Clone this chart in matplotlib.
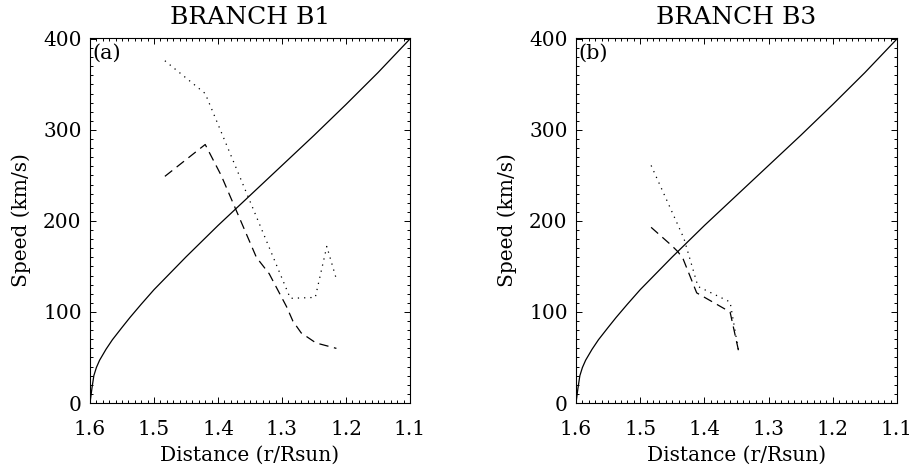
import numpy as np
import matplotlib
matplotlib.use("Agg")
import matplotlib.pyplot as plt
from matplotlib.ticker import MultipleLocator

plt.rcParams['font.family'] = ['DejaVu Serif']

# smooth model curve (same in both panels)
model_r = [1.600, 1.597, 1.594, 1.590, 1.585, 1.575, 1.565, 1.550, 1.5375, 1.520,
           1.500, 1.450, 1.400, 1.350, 1.300, 1.250, 1.200, 1.150, 1.100]
model_v = [0, 16, 30, 39, 47, 59, 69.5, 83, 94, 108.5,
           124.5, 160.5, 195, 228, 261, 294, 328, 363, 400]

# branch B1
b1_dot_r = [1.483, 1.420, 1.287, 1.248, 1.230, 1.215]
b1_dot_v = [376, 340, 115, 116, 172, 136]
b1_dash_r = [1.483, 1.420, 1.395, 1.340, 1.320, 1.293, 1.283, 1.270, 1.247, 1.215]
b1_dash_v = [249, 284, 250, 160, 142, 106, 90, 77, 66, 60]

# branch B3
b3_dot_r = [1.483, 1.432, 1.410, 1.360, 1.347]
b3_dot_v = [261, 181, 128, 111, 58]
b3_dash_r = [1.483, 1.451, 1.441, 1.433, 1.412, 1.360, 1.347]
b3_dash_v = [193, 173, 166, 158, 121, 100, 58]

titles = ['BRANCH B1', 'BRANCH B3']
tags = ['(a)', '(b)']

fig = plt.figure(figsize=(9.09, 4.69), dpi=100)
ax1 = fig.add_axes([90/909, 1-403/469, 320/909, 365/469])
ax2 = fig.add_axes([576/909, 1-403/469, 321/909, 365/469])

panels = [(ax1, b1_dot_r, b1_dot_v, b1_dash_r, b1_dash_v),
          (ax2, b3_dot_r, b3_dot_v, b3_dash_r, b3_dash_v)]

for i, (ax, dr, dv, sr, sv) in enumerate(panels):
    ax.plot(model_r, model_v, color='black', lw=0.9)
    ax.plot(dr, dv, color='black', lw=0.9, linestyle=(0, (1, 4)))
    ax.plot(sr, sv, color='black', lw=0.9, linestyle=(0, (7.5, 4.5)))
    ax.set_xlim(1.6, 1.1)
    ax.set_ylim(0, 401)
    ax.xaxis.set_major_locator(MultipleLocator(0.1))
    ax.xaxis.set_minor_locator(MultipleLocator(0.01))
    ax.yaxis.set_major_locator(MultipleLocator(100))
    ax.yaxis.set_minor_locator(MultipleLocator(10))
    ax.tick_params(which='both', direction='in', top=True, right=True, width=0.7, labelsize=14.5)
    ax.tick_params(which='major', length=4.5)
    ax.tick_params(which='minor', length=2.3)
    ax.tick_params(axis='x', which='major', pad=12)
    ax.tick_params(axis='y', which='major', pad=6)
    ax.set_xticklabels([f'{v:.1f}' for v in ax.get_xticks()])
    for s in ax.spines.values():
        s.set_linewidth(0.8)
    ax.set_title(titles[i], fontsize=18, pad=10)
    ax.set_xlabel('Distance (r/Rsun)', fontsize=14.5, labelpad=5)
    ax.set_ylabel('Speed (km/s)', fontsize=14.5, labelpad=9)
    ax.text(0.008, 0.985, tags[i], transform=ax.transAxes, fontsize=15, va='top', ha='left')

fig.savefig('out.png', dpi=100)
